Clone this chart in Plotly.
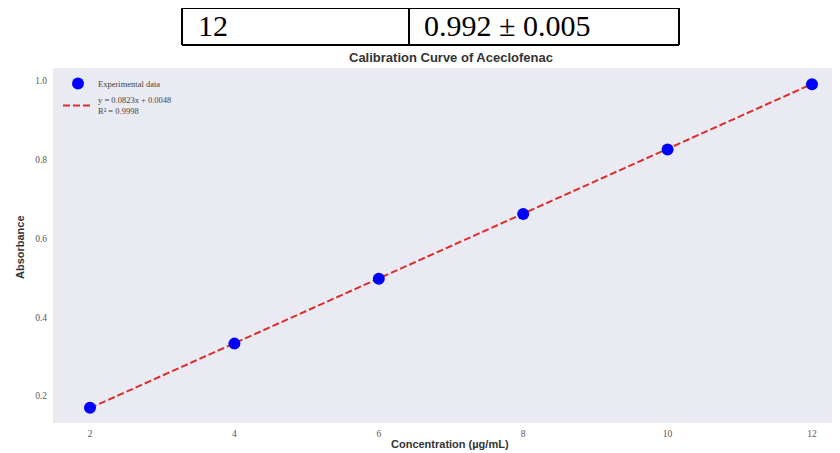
import numpy as np
import plotly.graph_objects as go

# ---- data ----
concentration = [2, 4, 6, 8, 10, 12]
absorbance = [0.170, 0.333, 0.498, 0.662, 0.826, 0.992]
slope = 0.0823
intercept = 0.0048
r_squared = 0.9998
table_cells = ["12", "0.992 ± 0.005"]

# page has an 8px body margin, so the figure is drawn 8px in from the corner
OFF = 8
W, H = 840 - OFF, 453 - OFF
ML, MR, MT, MB = 53 - OFF, 0, 68 - OFF, 30
PW, PH = W - ML - MR, H - MT - MB


def px(x):
    return (x - OFF - ML) / PW


def py(y):
    return (H - MB - (y - OFF)) / PH


fit_y = [slope * c + intercept for c in concentration]

fig = go.Figure()
fig.add_trace(go.Scatter(
    x=concentration, y=fit_y, mode="lines",
    line=dict(color="rgb(220,45,45)", width=2, dash="7px,3px"),
    name=f"y = {slope:.4f}x + {intercept:.4f}<br>R² = {r_squared:.4f}",
))
fig.add_trace(go.Scatter(
    x=concentration, y=absorbance, mode="markers",
    marker=dict(color="#0000ff", size=12),
    name="Experimental data",
))

# table row above chart
shapes = []
tl, tm, tr, tt, tb = 182, 409, 679, 8, 45
for (x0, y0, x1, y1) in [(tl, tt, tr, tt), (tl, tb, tr, tb), (tl, tt, tl, tb),
                         (tm, tt, tm, tb), (tr, tt, tr, tb)]:
    shapes.append(dict(type="line", xref="paper", yref="paper",
                       x0=px(x0), y0=py(y0), x1=px(x1), y1=py(y1),
                       line=dict(color="black", width=2)))

annotations = [
    dict(text=table_cells[0], xref="paper", yref="paper", x=px(196), y=py(26),
         xanchor="left", yanchor="middle", showarrow=False,
         font=dict(family="Liberation Serif", size=30, color="black")),
    dict(text=table_cells[1], xref="paper", yref="paper", x=px(422), y=py(26),
         xanchor="left", yanchor="middle", showarrow=False,
         font=dict(family="Liberation Serif", size=30, color="black")),
    dict(text="<b>Calibration Curve of Aceclofenac</b>", xref="paper", yref="paper",
         x=px(451), y=py(57), xanchor="center", yanchor="middle", showarrow=False,
         font=dict(family="Liberation Sans", size=13, color="#333")),
    dict(text="<b>Concentration (µg/mL)</b>", xref="paper", yref="paper",
         x=px(450), y=py(444), xanchor="center", yanchor="middle", showarrow=False,
         font=dict(family="Liberation Sans", size=11, color="#333")),
    dict(text="<b>Absorbance</b>", xref="paper", yref="paper",
         x=px(20), y=py(247), xanchor="center", yanchor="middle", showarrow=False,
         textangle=-90,
         font=dict(family="Liberation Sans", size=11, color="#333")),
]

fig.update_layout(
    width=W, height=H,
    margin=dict(l=ML, r=MR, t=MT, b=MB, autoexpand=False),
    paper_bgcolor="white", plot_bgcolor="#EAEAF2",
    shapes=shapes, annotations=annotations,
    showlegend=True,
    legend=dict(x=px(58), y=py(69), xanchor="left", yanchor="top",
                bgcolor="rgba(0,0,0,0)", traceorder="reversed",
                font=dict(family="Liberation Serif", size=8.5, color="#444"),
                tracegroupgap=0, itemwidth=30),
)
fig.update_xaxes(range=[1.4875, 12.388], tickvals=concentration, showgrid=False,
                 zeroline=False, showline=False, ticks="", ticklabelstandoff=3,
                 tickfont=dict(family="Liberation Serif", size=9.5, color="#555"))
fig.update_yaxes(range=[0.1314, 1.033], tickvals=[0.2, 0.4, 0.6, 0.8, 1.0],
                 tickformat=".1f", showgrid=False, zeroline=False, showline=False,
                 ticks="", ticklabelstandoff=5,
                 tickfont=dict(family="Liberation Serif", size=9.5, color="#555"))

fig.write_html("out.html")
